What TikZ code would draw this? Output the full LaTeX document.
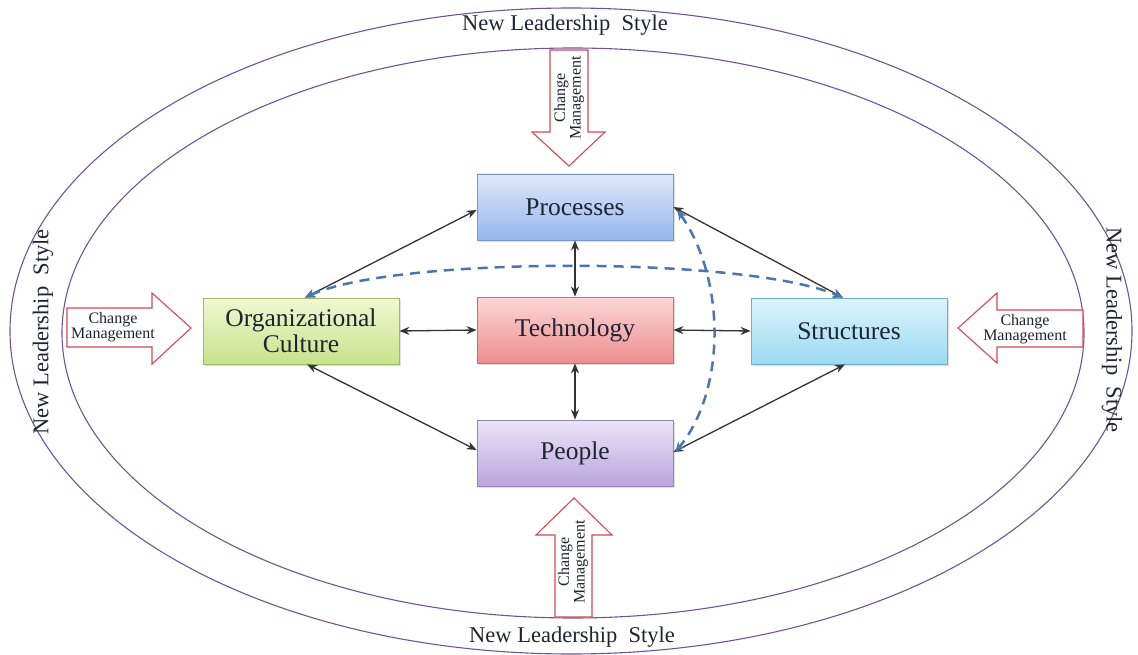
\documentclass[tikz,border=0pt]{standalone}
\usepackage{fontspec}
\setmainfont{Liberation Serif}
\usetikzlibrary{arrows.meta,shadows}
\definecolor{ellc}{RGB}{112,84,150}
\definecolor{redc}{RGB}{214,72,84}
\definecolor{dashc}{RGB}{74,118,176}
\definecolor{txtc}{RGB}{30,36,50}
\tikzset{
  box/.style={draw, line width=0.8pt, minimum width=196pt, minimum height=66pt,
    align=center, text=txtc, font=\fontsize{25.5}{26}\selectfont,
    drop shadow={opacity=0.25, shadow xshift=2pt, shadow yshift=-2pt}},
  blockarrow/.style={draw=redc, fill=white, line width=1.1pt, line join=miter},
  cmtext/.style={align=center, text=txtc, font=\fontsize{16}{15.5}\selectfont, inner sep=0pt},
  nls/.style={text=txtc, font=\fontsize{22.5}{24}\selectfont, inner sep=0pt},
  link/.style={draw=black!80, line width=1.3pt, {Stealth[length=10pt,width=8pt]}-{Stealth[length=10pt,width=8pt]}},
  dlink/.style={draw=dashc, line width=2.5pt, dash pattern=on 10pt off 7pt,
    {Stealth[length=10pt,width=9pt]}-{Stealth[length=10pt,width=9pt]}},
}
\begin{document}
\begin{tikzpicture}[x=1pt,y=-1pt]
\useasboundingbox (0,0) rectangle (1138,655);
% ellipses
\draw[ellc, line width=1.1pt] (571,331) ellipse [x radius=561, y radius=323];
\draw[ellc, line width=1.1pt] (573,333) ellipse [x radius=511, y radius=285];
% New Leadership Style labels
\node[nls] (nlstop) at (565,25) {New Leadership\hspace{0.5em}Style};
\node[nls] (nlsbot) at (572,637) {New Leadership\hspace{0.5em}Style};
\node[nls, rotate=90] (nlsleft) at (43,332) {New Leadership\hspace{0.5em}Style};
\node[nls, rotate=-90] (nlsright) at (1112,330) {New Leadership\hspace{0.5em}Style};
% block arrows
\draw[blockarrow] (550,50) -- (588,50) -- (588,132) -- (605,132) -- (569,166) -- (532,132) -- (550,132) -- cycle;
\draw[blockarrow] (555,617) -- (592,617) -- (592,535) -- (612,535) -- (574,498) -- (536,535) -- (555,535) -- cycle;
\draw[blockarrow] (67,308) -- (152,308) -- (152,293) -- (191,328) -- (152,364) -- (152,347) -- (67,347) -- cycle;
\draw[blockarrow] (1083,310) -- (997,310) -- (997,293) -- (958,328) -- (997,363) -- (997,347) -- (1083,347) -- cycle;
\node[cmtext, rotate=90] (cmtop) at (569,98) {Change\\Management};
\node[cmtext, rotate=90] (cmbot) at (573,562) {Change\\Management};
\node[cmtext] (cmleft) at (113,327) {Change\\Management};
\node[cmtext] (cmright) at (1025,329) {Change\\Management};
% boxes
\node[box, draw={rgb,255:red,120;green,150;blue,200}, top color={rgb,255:red,222;green,232;blue,250}, bottom color={rgb,255:red,150;green,182;blue,238}] (pr) at (575,207) {Processes};
\node[box, draw={rgb,255:red,200;green,110;blue,110}, top color={rgb,255:red,252;green,214;blue,214}, bottom color={rgb,255:red,238;green,142;blue,142}] (te) at (575,330) {Technology};
\node[box, draw={rgb,255:red,150;green,130;blue,190}, top color={rgb,255:red,236;green,228;blue,248}, bottom color={rgb,255:red,186;green,166;blue,222}] (pe) at (575,453) {People};
\node[box, draw={rgb,255:red,160;green,185;blue,100}, top color={rgb,255:red,240;green,248;blue,210}, bottom color={rgb,255:red,200;green,226;blue,140}] (oc) at (301,331) {Organizational\\Culture};
\node[box, draw={rgb,255:red,110;green,175;blue,200}, top color={rgb,255:red,220;green,244;blue,252}, bottom color={rgb,255:red,156;green,218;blue,242}] (st) at (849,331) {Structures};
% black connectors
\draw[link] ([xshift=4pt]oc.north) -- ([yshift=-3pt]pr.west);
\draw[link] (pr.east) -- ([xshift=-6pt]st.north);
\draw[link] (pr.south) -- (te.north);
\draw[link] (te.south) -- (pe.north);
\draw[link] (oc.east) -- (te.west);
\draw[link] (te.east) -- (st.west);
\draw[link] ([xshift=6pt]oc.south) -- ([yshift=3pt]pe.west);
\draw[link] ([xshift=-4pt]st.south) -- ([yshift=1pt]pe.east);
% dashed curves
\draw[dlink] ([xshift=4pt]oc.north) .. controls (395,256) and (745,256) .. ([xshift=-6pt]st.north);
\draw[dlink] ([xshift=4pt,yshift=-3pt]pr.east) .. controls (726,280) and (726,390) .. ([xshift=2pt,yshift=1pt]pe.east);
\end{tikzpicture}
\end{document}
